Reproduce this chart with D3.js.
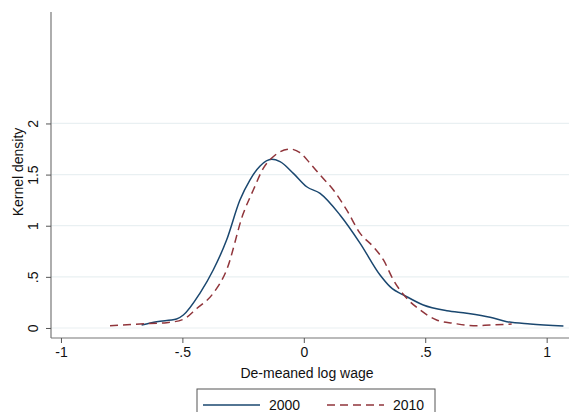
<!DOCTYPE html>
<html>
<head>
<meta charset="utf-8">
<script src="https://cdn.jsdelivr.net/npm/d3@7"></script>
<style>
  body { margin: 0; background: #fff; }
  svg { display: block; font-family: "Liberation Sans", Arial, sans-serif; }
</style>
</head>
<body>
<div id="chart"></div>
<script>
// kernel density estimates
var wage2000 = [-0.668, -0.606, -0.524, -0.496, -0.428, -0.373, -0.318, -0.263, -0.222, -0.180, -0.132, -0.098, -0.043, 0.012, 0.067, 0.149, 0.232, 0.314, 0.355, 0.424, 0.492, 0.589, 0.671, 0.767, 0.836, 0.932, 1.069];
var dens2000 = [0.03, 0.062, 0.088, 0.127, 0.339, 0.567, 0.86, 1.251, 1.447, 1.584, 1.649, 1.626, 1.512, 1.381, 1.316, 1.105, 0.828, 0.518, 0.404, 0.306, 0.225, 0.169, 0.144, 0.105, 0.062, 0.039, 0.02];

var wage2010 = [-0.798, -0.675, -0.565, -0.496, -0.441, -0.373, -0.318, -0.249, -0.208, -0.167, -0.126, -0.057, -0.016, 0.026, 0.067, 0.122, 0.177, 0.232, 0.286, 0.328, 0.369, 0.424, 0.479, 0.547, 0.616, 0.698, 0.767, 0.856];
var dens2010 = [0.022, 0.039, 0.052, 0.085, 0.19, 0.339, 0.567, 1.121, 1.349, 1.561, 1.675, 1.75, 1.714, 1.61, 1.496, 1.349, 1.153, 0.925, 0.795, 0.665, 0.469, 0.29, 0.176, 0.078, 0.046, 0.022, 0.029, 0.039];

var xTicks = [-1, -0.5, 0, 0.5, 1];
var xTickLabels = ["-1", "-.5", "0", ".5", "1"];
var yTicks = [0, 0.5, 1, 1.5, 2];
var yTickLabels = ["0", ".5", "1", "1.5", "2"];
var years = ["2000", "2010"];

var WIDTH = 574, HEIGHT = 412;
var plotLeft = 51, plotRight = 569, plotTop = 12, plotBottom = 338;

var x = d3.scaleLinear().domain([-1.041, 1.092]).range([plotLeft, plotRight]);
var y = d3.scaleLinear().domain([-0.098, 3.09]).range([plotBottom, plotTop]);

var svg = d3.select("#chart").append("svg")
  .attr("width", WIDTH)
  .attr("height", HEIGHT);

// grid lines
svg.append("g")
  .selectAll("line")
  .data(yTicks)
  .join("line")
  .attr("x1", plotLeft)
  .attr("x2", plotRight)
  .attr("y1", d => y(d))
  .attr("y2", d => y(d))
  .attr("stroke", "#e9f0f2")
  .attr("stroke-width", 1.2);

// y axis
var yAxis = svg.append("g")
  .attr("transform", "translate(" + plotLeft + ",0)")
  .call(d3.axisLeft(y).tickValues(yTicks).tickSize(5).tickFormat((d, i) => yTickLabels[i]));
yAxis.select(".domain").attr("stroke", "#777").attr("stroke-width", 1.2)
  .attr("d", "M0," + plotTop + "V" + plotBottom);
yAxis.selectAll(".tick line").attr("stroke", "#555");
yAxis.selectAll(".tick text")
  .attr("font-size", "14px")
  .attr("fill", "#111")
  .attr("text-anchor", "middle")
  .attr("x", 0)
  .attr("dy", 0)
  .attr("transform", "translate(-13,0) rotate(-90)");

// x axis
var xAxis = svg.append("g")
  .attr("transform", "translate(0," + plotBottom + ")")
  .call(d3.axisBottom(x).tickValues(xTicks).tickSize(5).tickFormat((d, i) => xTickLabels[i]));
xAxis.select(".domain").attr("stroke", "#777").attr("stroke-width", 1.2)
  .attr("d", "M" + plotLeft + ",0H" + plotRight);
xAxis.selectAll(".tick line").attr("stroke", "#555");
xAxis.selectAll(".tick text")
  .attr("font-size", "14px")
  .attr("fill", "#111")
  .attr("y", 9);

// axis titles
svg.append("text")
  .attr("x", (plotLeft + plotRight) / 2 - 3)
  .attr("y", 378)
  .attr("text-anchor", "middle")
  .style("font-size", "14px")
  .attr("fill", "#111")
  .text("De-meaned log wage");

svg.append("text")
  .attr("transform", "translate(23,172) rotate(-90)")
  .attr("text-anchor", "middle")
  .style("font-size", "14px")
  .attr("fill", "#111")
  .text("Kernel density");

// curves
var line = d3.line()
  .x(d => x(d[0]))
  .y(d => y(d[1]))
  .curve(d3.curveMonotoneX);

var series = [
  { name: years[0], pts: d3.zip(wage2000, dens2000), color: "#1a476f", dash: null },
  { name: years[1], pts: d3.zip(wage2010, dens2010), color: "#90353b", dash: "8,5" }
];

svg.append("g")
  .selectAll("path")
  .data(series)
  .join("path")
  .attr("d", d => line(d.pts))
  .attr("fill", "none")
  .attr("stroke", d => d.color)
  .attr("stroke-width", 1.5)
  .attr("stroke-dasharray", d => d.dash);

// legend
var legend = svg.append("g");
legend.append("rect")
  .attr("x", 197)
  .attr("y", 389)
  .attr("width", 238)
  .attr("height", 40)
  .attr("fill", "#fff")
  .attr("stroke", "#555")
  .attr("stroke-width", 1);

var items = legend.selectAll("g.item")
  .data(series)
  .join("g")
  .attr("class", "item")
  .attr("transform", (d, i) => "translate(" + (203 + i * 124) + ",405)");

items.append("line")
  .attr("x1", 0)
  .attr("x2", 57)
  .attr("stroke", d => d.color)
  .attr("stroke-width", 1.5)
  .attr("stroke-dasharray", d => d.dash);

items.append("text")
  .attr("x", 66)
  .attr("dy", "0.36em")
  .style("font-size", "14px")
  .attr("fill", "#111")
  .text(d => d.name);
</script>
</body>
</html>
